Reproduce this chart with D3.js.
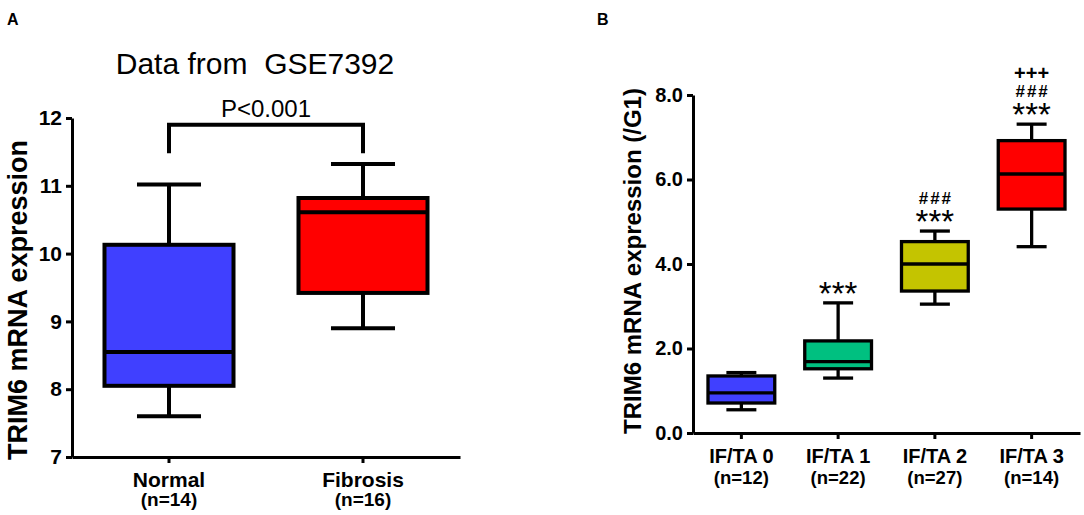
<!DOCTYPE html>
<html>
<head>
<meta charset="utf-8">
<script src="https://cdn.jsdelivr.net/npm/d3@7"></script>
<style>
  body { margin: 0; background: #fff; }
  text { font-family: "Liberation Sans", Arial, sans-serif; fill: #000; }
  .axis path, .axis line { stroke: #000; stroke-width: 3; }
</style>
</head>
<body>
<svg id="chart" width="1084" height="515"></svg>
<script>
// Panel A data (GSE7392)
var groupsA = ["Normal", "Fibrosis"];
var countsA = ["(n=14)", "(n=16)"];
var colorsA = ["#4040ff", "#ff0000"];
var minA = [7.6, 8.9];
var q1A = [8.05, 9.42];
var medianA = [8.55, 10.61];
var q3A = [10.13, 10.82];
var maxA = [11.02, 11.32];
var ticksA = [7, 8, 9, 10, 11, 12];

// Panel B data (IF/TA grades)
var groupsB = ["IF/TA 0", "IF/TA 1", "IF/TA 2", "IF/TA 3"];
var countsB = ["(n=12)", "(n=22)", "(n=27)", "(n=14)"];
var colorsB = ["#4040ff", "#00c080", "#c4c400", "#ff0000"];
var minB = [0.55, 1.3, 3.05, 4.41];
var q1B = [0.71, 1.52, 3.36, 5.3];
var medianB = [0.95, 1.69, 4.0, 6.13];
var q3B = [1.35, 2.18, 4.53, 6.92];
var maxB = [1.43, 3.08, 4.78, 7.31];
var ticksB = [0, 2, 4, 6, 8];
var marksB = [[], ["***"], ["###", "***"], ["+++", "###", "***"]];

var svg = d3.select("#chart");

function drawBoxes(g, x, y, groups, mins, q1s, meds, q3s, maxs, colors, boxFrac, capFrac, sw) {
  var bw = x.bandwidth() * boxFrac;
  var cw = x.bandwidth() * capFrac;
  groups.forEach(function(name, i) {
    var cx = x(name) + x.bandwidth() / 2;
    var grp = g.append("g");
    // whiskers
    grp.append("line")
      .attr("x1", cx).attr("x2", cx)
      .attr("y1", y(maxs[i])).attr("y2", y(mins[i]))
      .attr("stroke", "#000").attr("stroke-width", sw);
    [mins[i], maxs[i]].forEach(function(v) {
      grp.append("line")
        .attr("x1", cx - cw / 2).attr("x2", cx + cw / 2)
        .attr("y1", y(v)).attr("y2", y(v))
        .attr("stroke", "#000").attr("stroke-width", sw);
    });
    // box
    grp.append("rect")
      .attr("x", cx - bw / 2)
      .attr("y", y(q3s[i]))
      .attr("width", bw)
      .attr("height", y(q1s[i]) - y(q3s[i]))
      .attr("fill", colors[i])
      .attr("stroke", "#000").attr("stroke-width", sw);
    // median
    grp.append("line")
      .attr("x1", cx - bw / 2).attr("x2", cx + bw / 2)
      .attr("y1", y(meds[i])).attr("y2", y(meds[i]))
      .attr("stroke", "#000").attr("stroke-width", sw);
  });
}

function drawXLabels(g, x, groups, counts, y0, size1, size2, gap) {
  groups.forEach(function(name, i) {
    var cx = x(name) + x.bandwidth() / 2;
    g.append("text")
      .attr("x", cx).attr("y", y0)
      .attr("text-anchor", "middle")
      .style("font-size", size1 + "px").style("font-weight", "bold")
      .text(name);
    g.append("text")
      .attr("x", cx).attr("y", y0 + gap)
      .attr("text-anchor", "middle")
      .style("font-size", size2 + "px").style("font-weight", "bold")
      .text(counts[i]);
  });
}

// ---------- Panel A ----------
var gA = svg.append("g");
var xA = d3.scaleBand().domain(groupsA).range([72, 460]);
var yA = d3.scaleLinear().domain([7, 12]).range([457, 118]);

gA.append("g")
  .attr("class", "axis")
  .attr("transform", "translate(72,0)")
  .call(d3.axisLeft(yA).tickValues(ticksA).tickSize(6).tickSizeOuter(0).tickPadding(4).tickFormat(d3.format("d")))
  .selectAll("text")
  .style("font-size", "21px").style("font-weight", "bold");

gA.append("g")
  .attr("class", "axis")
  .attr("transform", "translate(0,457)")
  .call(d3.axisBottom(xA).tickSize(6).tickSizeOuter(0).tickFormat(""));

drawBoxes(gA, xA, yA, groupsA, minA, q1A, medianA, q3A, maxA, colorsA, 0.665, 0.33, 4);
drawXLabels(gA, xA, groupsA, countsA, 487, 21, 19, 19);

// significance bracket
var bx1 = xA("Normal") + xA.bandwidth() / 2;
var bx2 = xA("Fibrosis") + xA.bandwidth() / 2;
gA.append("path")
  .attr("d", "M" + bx1 + "," + yA(11.48) + "V" + yA(11.9) + "H" + bx2 + "V" + yA(11.48))
  .attr("fill", "none").attr("stroke", "#000").attr("stroke-width", 4);
gA.append("text")
  .attr("x", (bx1 + bx2) / 2).attr("y", 117)
  .attr("text-anchor", "middle")
  .style("font-size", "24px")
  .text("P<0.001");

gA.append("text")
  .attr("x", 255).attr("y", 74)
  .attr("text-anchor", "middle")
  .style("font-size", "30px")
  .attr("xml:space", "preserve")
  .text("Data from  GSE7392");

gA.append("text")
  .attr("transform", "translate(27,300) rotate(-90)")
  .attr("text-anchor", "middle")
  .style("font-size", "27px").style("font-weight", "bold")
  .text("TRIM6 mRNA expression");

svg.append("text")
  .attr("x", 7).attr("y", 25)
  .style("font-size", "16px").style("font-weight", "bold")
  .text("A");

// ---------- Panel B ----------
var gB = svg.append("g");
var xB = d3.scaleBand().domain(groupsB).range([693, 1080]);
var yB = d3.scaleLinear().domain([0, 8]).range([433, 95]);

gB.append("g")
  .attr("class", "axis")
  .attr("transform", "translate(693,0)")
  .call(d3.axisLeft(yB).tickValues(ticksB).tickSize(6).tickSizeOuter(0).tickPadding(4).tickFormat(d3.format(".1f")))
  .selectAll("text")
  .style("font-size", "20px").style("font-weight", "bold");

gB.append("g")
  .attr("class", "axis")
  .attr("transform", "translate(0,433)")
  .call(d3.axisBottom(xB).tickSize(6).tickSizeOuter(0).tickFormat(""));

drawBoxes(gB, xB, yB, groupsB, minB, q1B, medianB, q3B, maxB, colorsB, 0.69, 0.31, 3.3);
drawXLabels(gB, xB, groupsB, countsB, 463, 20, 18.5, 21);

// significance marks stacked above the upper whisker, one text per group
var markStyle = {
  "*": { size: 33, weight: "normal", spacing: 0, lift: -2 },
  "#": { size: 17, weight: "bold", spacing: 2, lift: 27 },
  "+": { size: 20, weight: "bold", spacing: 0, lift: 44 }
};
groupsB.forEach(function(name, i) {
  if (!marksB[i].length) return;
  var cx = xB(name) + xB.bandwidth() / 2;
  var top = yB(maxB[i]);
  var t = gB.append("text").attr("text-anchor", "middle");
  marksB[i].forEach(function(s) {
    var st = markStyle[s.charAt(0)];
    t.append("tspan")
      .attr("x", cx + st.spacing / 2)
      .attr("y", top - st.lift)
      .style("font-size", st.size + "px")
      .style("font-weight", st.weight)
      .style("letter-spacing", st.spacing + "px")
      .text(s);
  });
});

gB.append("text")
  .attr("transform", "translate(641,261) rotate(-90)")
  .attr("text-anchor", "middle")
  .style("font-size", "24px").style("font-weight", "bold")
  .text("TRIM6 mRNA expression (/G1)");

svg.append("text")
  .attr("x", 597).attr("y", 25)
  .style("font-size", "16px").style("font-weight", "bold")
  .text("B");
</script>
</body>
</html>
